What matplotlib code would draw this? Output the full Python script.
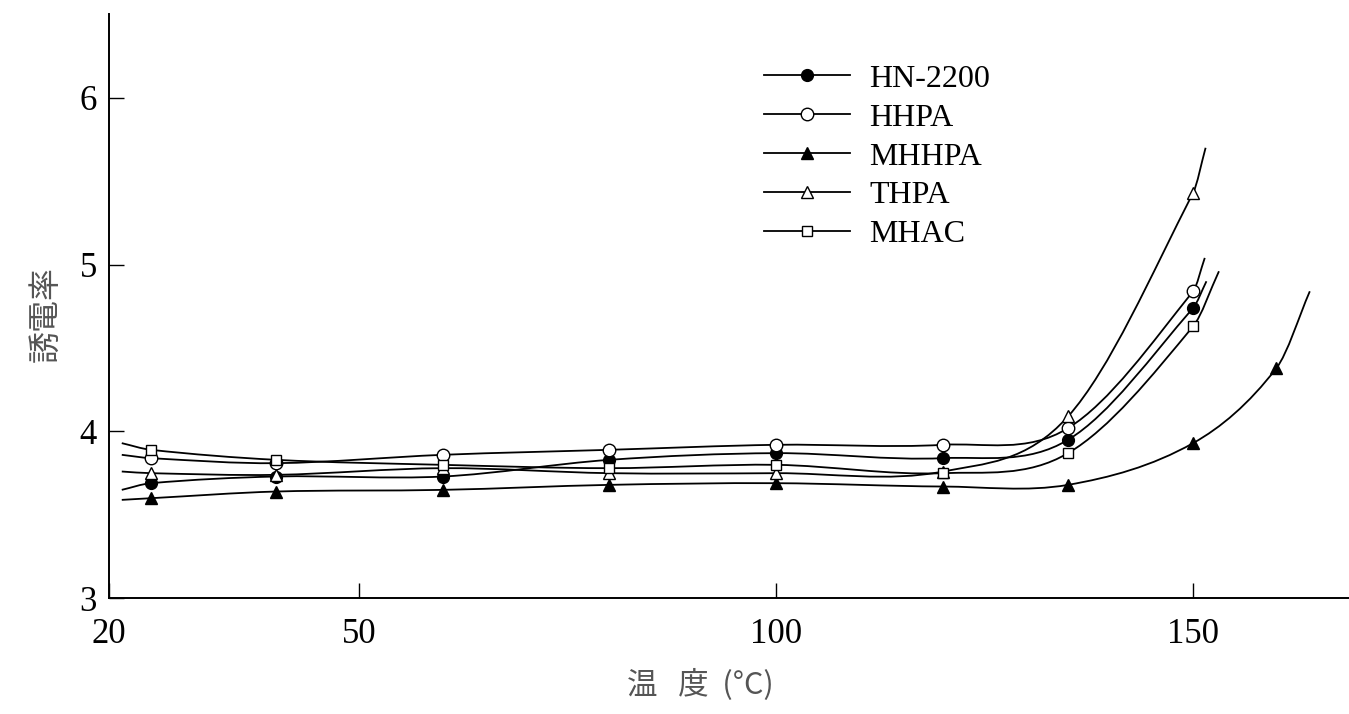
import numpy as np
import matplotlib
matplotlib.use('Agg')
import matplotlib.pyplot as plt
from matplotlib.path import Path
from matplotlib.patches import PathPatch
from matplotlib.lines import Line2D

# measured points (temperature in C, dielectric constant)
temp = [25, 40, 60, 80, 100, 120, 135, 150]
temp_mhhpa = [25, 40, 60, 80, 100, 120, 135, 150, 160]

hn2200 = [3.69, 3.73, 3.73, 3.83, 3.87, 3.84, 3.95, 4.74]
hhpa = [3.84, 3.81, 3.86, 3.89, 3.92, 3.92, 4.02, 4.84]
mhhpa = [3.60, 3.64, 3.65, 3.68, 3.69, 3.67, 3.68, 3.93, 4.38]
thpa = [3.75, 3.74, 3.78, 3.75, 3.75, 3.76, 4.09, 5.43]
mhac = [3.89, 3.83, 3.80, 3.78, 3.80, 3.75, 3.87, 4.63]

# where each hand drawn curve starts and stops
curve_start = {'HN-2200': (21.5, 3.65), 'HHPA': (21.5, 3.86), 'MHHPA': (21.5, 3.59),
               'THPA': (21.5, 3.76), 'MHAC': (21.5, 3.93)}
curve_end = {'HN-2200': (151.6, 4.90), 'HHPA': (151.4, 5.04), 'MHHPA': (164.0, 4.84),
             'THPA': (151.5, 5.70), 'MHAC': (153.1, 4.96)}

series = [
    ('HN-2200', temp, hn2200, dict(marker='o', mfc='black', ms=8.5)),
    ('HHPA', temp, hhpa, dict(marker='o', mfc='white', ms=9)),
    ('MHHPA', temp_mhhpa, mhhpa, dict(marker='^', mfc='black', ms=8.5)),
    ('THPA', temp, thpa, dict(marker='^', mfc='white', ms=9)),
    ('MHAC', temp, mhac, dict(marker='s', mfc='white', ms=7)),
]


def smooth_path(xs, ys):
    # cubic bezier through the knots, hermite style tangents
    xs = np.asarray(xs, float)
    ys = np.asarray(ys, float)
    n = len(xs)
    m = np.zeros(n)
    for i in range(n):
        if i == 0:
            m[i] = (ys[1] - ys[0]) / (xs[1] - xs[0])
        elif i == n - 1:
            m[i] = (ys[-1] - ys[-2]) / (xs[-1] - xs[-2])
        else:
            m[i] = (ys[i + 1] - ys[i - 1]) / (xs[i + 1] - xs[i - 1])
    verts = [(xs[0], ys[0])]
    codes = [Path.MOVETO]
    for i in range(n - 1):
        h = xs[i + 1] - xs[i]
        verts += [(xs[i] + h / 3, ys[i] + m[i] * h / 3),
                  (xs[i + 1] - h / 3, ys[i + 1] - m[i + 1] * h / 3),
                  (xs[i + 1], ys[i + 1])]
        codes += [Path.CURVE4] * 3
    return Path(verts, codes)


serif = ['Liberation Serif', 'DejaVu Serif']
jp = ['Noto Sans CJK JP', 'DejaVu Sans']

fig = plt.figure(figsize=(13.49, 7.14), dpi=100)
ax = fig.add_axes([0.081, 0.162, 0.919, 0.818])

handles = []
for name, xs, ys, st in series:
    sx, sy = curve_start[name]
    ex, ey = curve_end[name]
    p = smooth_path([sx] + list(xs) + [ex], [sy] + list(ys) + [ey])
    ax.add_patch(PathPatch(p, facecolor='none', edgecolor='black', lw=1.3, zorder=2))
    ax.plot(xs, ys, ls='none', marker=st['marker'], mfc=st['mfc'], mec='black',
            mew=1.0, ms=st['ms'], zorder=3)
    handles.append(Line2D([], [], color='black', lw=1.3, marker=st['marker'],
                          mfc=st['mfc'], mec='black', mew=1.0, ms=st['ms']))

ax.set_xlim(20, 168.7)
ax.set_ylim(3, 6.5)
ax.set_xticks([20, 50, 100, 150])
ax.set_yticks([3, 4, 5, 6])
ax.spines['top'].set_visible(False)
ax.spines['right'].set_visible(False)
ax.spines['left'].set_linewidth(1.4)
ax.spines['bottom'].set_linewidth(1.4)
ax.tick_params(direction='in', length=11, width=1.0, labelsize=25)
ax.tick_params(axis='x', pad=14)
ax.tick_params(axis='y', pad=9)
for lab in ax.get_xticklabels() + ax.get_yticklabels():
    lab.set_family(serif)

leg = fig.legend(handles, [s[0] for s in series], loc='upper left',
                 bbox_to_anchor=(0.566, 0.91), frameon=False,
                 handlelength=2.7, handletextpad=0.6, labelspacing=0.30,
                 borderpad=0, borderaxespad=0, prop={'family': serif, 'size': 23})

fig.text(0.519, 0.041, '温   度  (°C)', family=jp, fontsize=22, color='#555555',
         ha='center', va='center')
fig.text(0.034, 0.56, '誘電率', family=jp, fontsize=23, color='#555555',
         ha='center', va='center', rotation=90)

fig.savefig('out.png', dpi=100)
